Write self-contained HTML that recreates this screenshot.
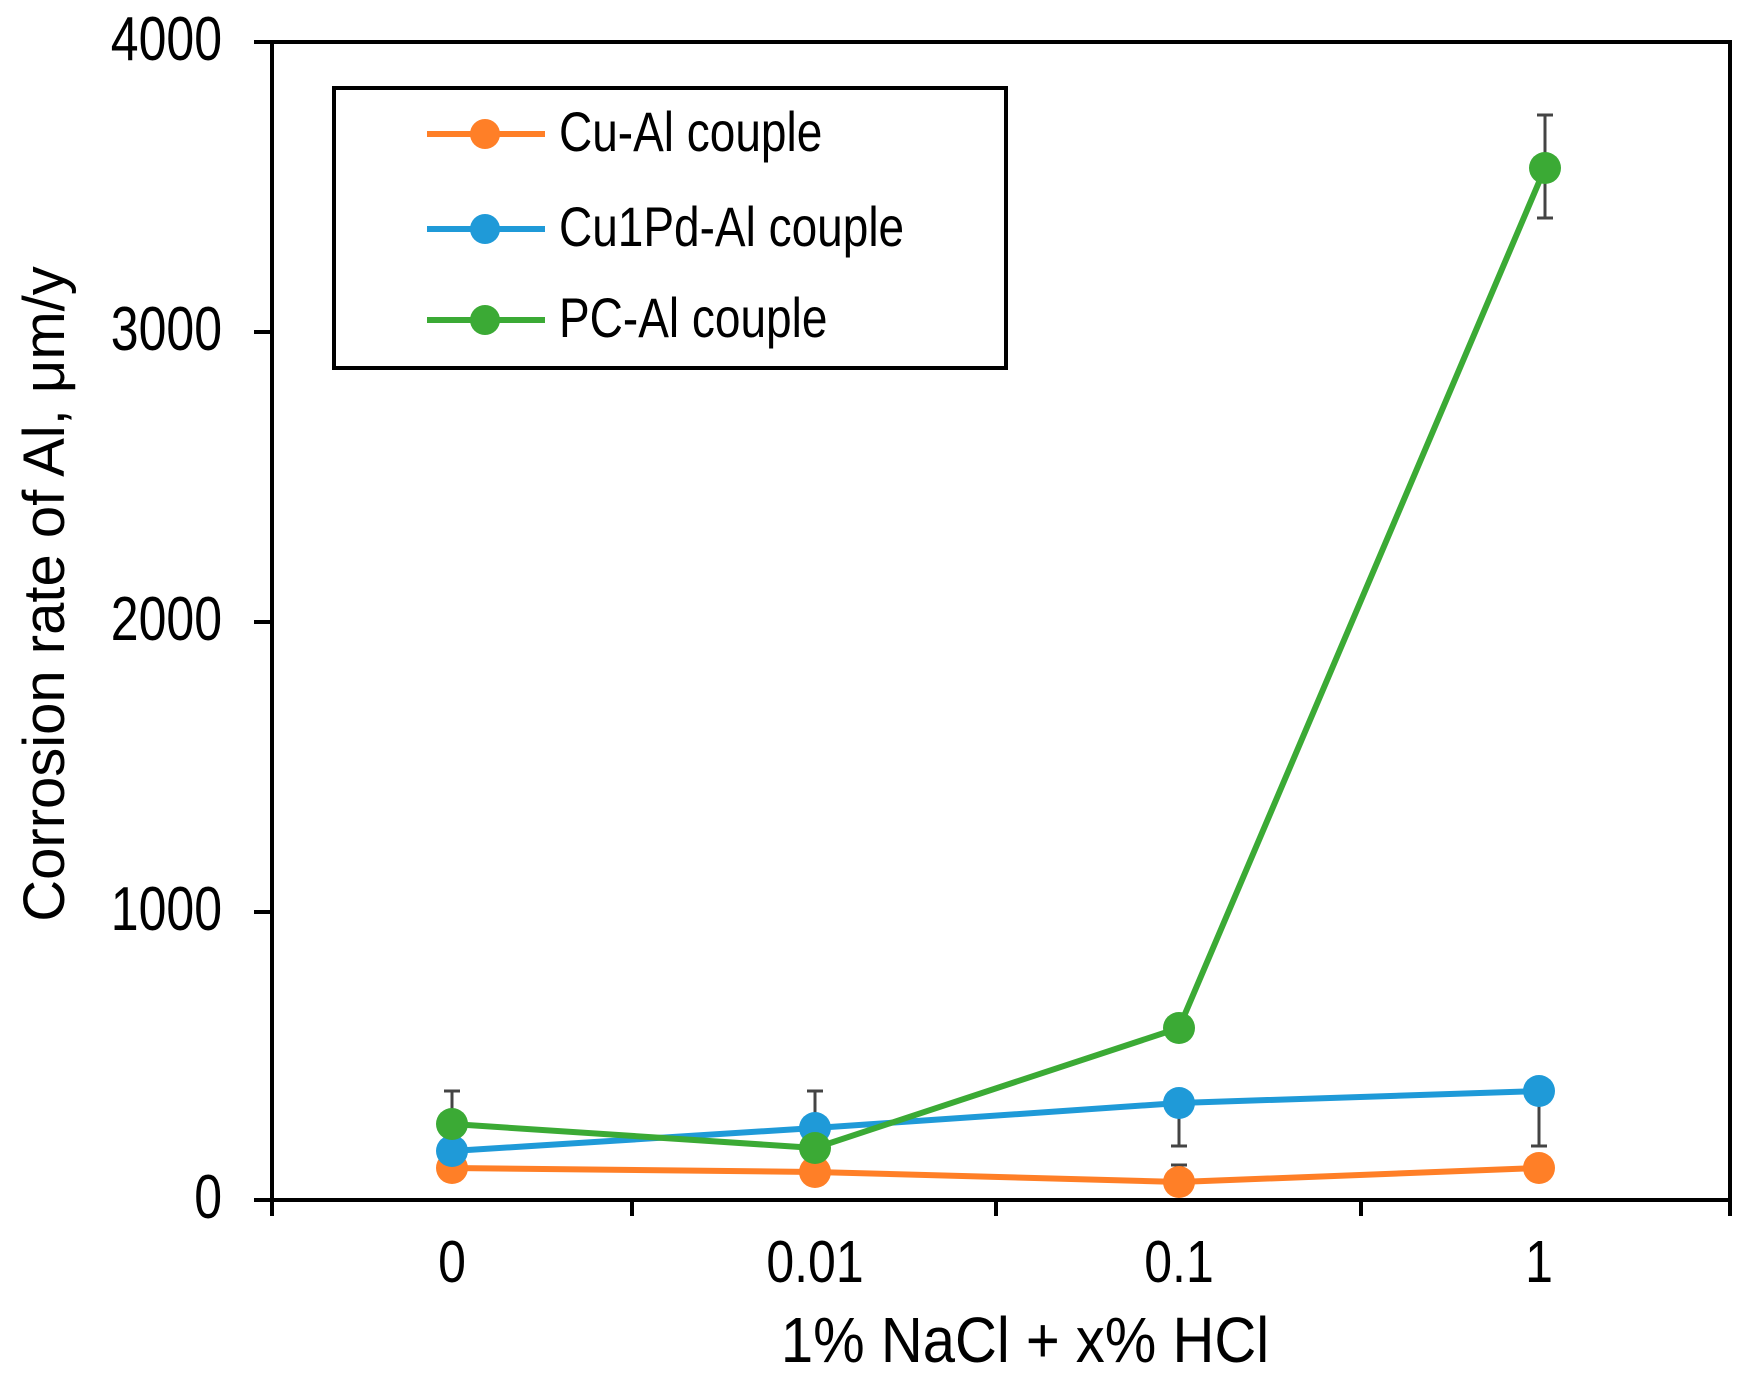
<!DOCTYPE html>
<html><head><meta charset="utf-8"><style>
html,body{margin:0;padding:0;background:#fff;}
svg{display:block;font-family:"Liberation Sans",Arial,sans-serif;}
</style></head><body>
<svg width="1748" height="1381" viewBox="0 0 1748 1381" xmlns="http://www.w3.org/2000/svg">
<rect x="272" y="42" width="1458" height="1158" fill="none" stroke="#000" stroke-width="4"/>
<g stroke="#000" stroke-width="4">
<line x1="254" y1="42" x2="272" y2="42"/>
<line x1="254" y1="332" x2="272" y2="332"/>
<line x1="254" y1="622" x2="272" y2="622"/>
<line x1="254" y1="912" x2="272" y2="912"/>
<line x1="254" y1="1200" x2="272" y2="1200"/>
<line x1="272" y1="1200" x2="272" y2="1216"/>
<line x1="632" y1="1200" x2="632" y2="1216"/>
<line x1="996" y1="1200" x2="996" y2="1216"/>
<line x1="1361" y1="1200" x2="1361" y2="1216"/>
<line x1="1730" y1="1200" x2="1730" y2="1216"/>
</g>
<g font-size="50" text-anchor="end" fill="#000">
<text transform="translate(222,60) scale(1,1.25)">4000</text>
<text transform="translate(222,350) scale(1,1.25)">3000</text>
<text transform="translate(222,640) scale(1,1.25)">2000</text>
<text transform="translate(222,930) scale(1,1.25)">1000</text>
<text transform="translate(222,1218) scale(1,1.25)">0</text>
</g>
<g font-size="50" text-anchor="middle" fill="#000">
<text transform="translate(452,1282) scale(1,1.18)">0</text>
<text transform="translate(815,1282) scale(1,1.18)">0.01</text>
<text transform="translate(1179,1282) scale(1,1.18)">0.1</text>
<text transform="translate(1539,1282) scale(1,1.18)">1</text>
<text transform="translate(1025,1362) scale(1,1.1)" font-size="58">1% NaCl + x% HCl</text>
<text transform="translate(64,594) rotate(-90)" font-size="58">Corrosion rate of Al,  μm/y</text>
</g>
<g stroke="#444" stroke-width="3">
<line x1="452" y1="1091" x2="452" y2="1124"/><line x1="444" y1="1091" x2="460" y2="1091"/>
<line x1="815" y1="1091" x2="815" y2="1128"/><line x1="807" y1="1091" x2="823" y2="1091"/>
<line x1="1179" y1="1091" x2="1179" y2="1146"/><line x1="1171" y1="1091" x2="1187" y2="1091"/><line x1="1171" y1="1146" x2="1187" y2="1146"/>
<line x1="1179" y1="1165" x2="1179" y2="1182"/><line x1="1171" y1="1165" x2="1187" y2="1165"/>
<line x1="1539" y1="1091" x2="1539" y2="1146"/><line x1="1531" y1="1146" x2="1547" y2="1146"/>
<line x1="1545" y1="115" x2="1545" y2="218"/><line x1="1537" y1="115" x2="1553" y2="115"/><line x1="1537" y1="218" x2="1553" y2="218"/>
</g>
<g fill="none" stroke-width="6" stroke-linejoin="round">
<polyline stroke="#FF7F27" points="452,1168 815,1172 1179,1182 1539,1168"/>
<polyline stroke="#1F9AD8" points="452,1151 815,1128 1179,1103 1539,1091"/>
<polyline stroke="#3BAA35" points="452,1124 815,1148 1179,1028 1545,168"/>
</g>
<g fill="#FF7F27"><circle cx="452" cy="1168" r="16"/><circle cx="815" cy="1172" r="16"/><circle cx="1179" cy="1182" r="16"/><circle cx="1539" cy="1168" r="16"/></g>
<g fill="#1F9AD8"><circle cx="452" cy="1151" r="16"/><circle cx="815" cy="1128" r="16"/><circle cx="1179" cy="1103" r="16"/><circle cx="1539" cy="1091" r="16"/></g>
<g fill="#3BAA35"><circle cx="452" cy="1124" r="16"/><circle cx="815" cy="1148" r="16"/><circle cx="1179" cy="1028" r="16"/><circle cx="1545" cy="168" r="16"/></g>
<rect x="334" y="88" width="672" height="280" fill="#fff" stroke="#000" stroke-width="4"/>
<g stroke-width="6">
<line x1="427" y1="134" x2="545" y2="134" stroke="#FF7F27"/>
<line x1="427" y1="229" x2="545" y2="229" stroke="#1F9AD8"/>
<line x1="427" y1="320" x2="545" y2="320" stroke="#3BAA35"/>
</g>
<circle cx="485" cy="134" r="15" fill="#FF7F27"/>
<circle cx="485" cy="229" r="15" fill="#1F9AD8"/>
<circle cx="485" cy="320" r="15" fill="#3BAA35"/>
<g font-size="46" fill="#000">
<text transform="translate(559,151) scale(1,1.2)">Cu-Al couple</text>
<text transform="translate(559,246) scale(1,1.2)">Cu1Pd-Al couple</text>
<text transform="translate(559,337) scale(1,1.2)">PC-Al couple</text>
</g>
</svg>
</body></html>
